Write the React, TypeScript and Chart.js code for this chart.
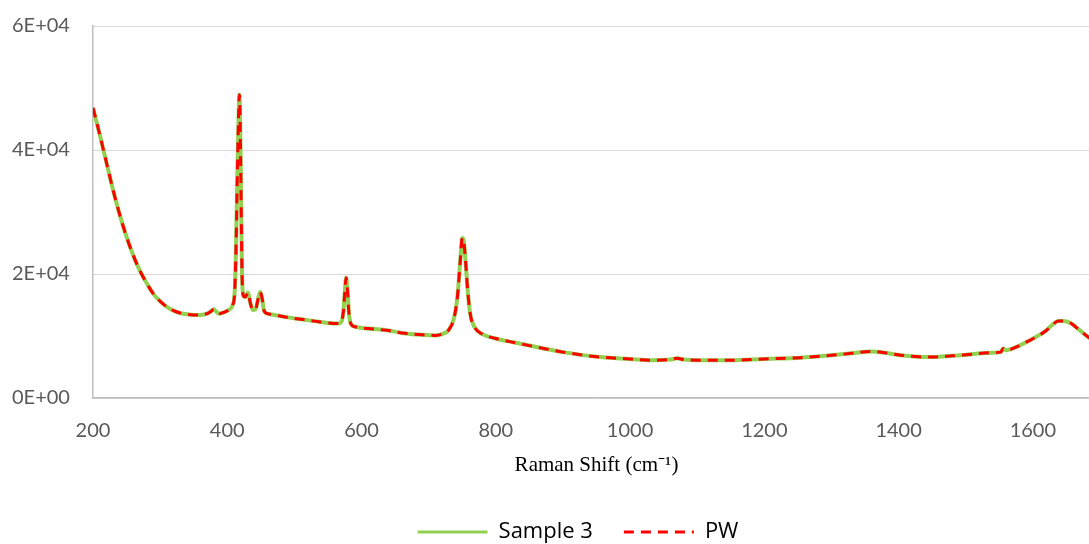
import { useEffect, useRef } from "react";
import { Chart, registerables } from "chart.js";

Chart.register(...registerables);

// Raman shift (cm-1) sample positions
const ramanShift = [
  200, 210, 220, 230, 240, 250, 260, 270, 280, 290, 300, 310, 320, 330, 340, 350, 360, 370, 375, 380,
  384, 388, 395, 402, 408, 411, 413, 415, 417, 418, 419, 420, 421, 422, 424, 427, 431, 434, 438, 442,
  446, 449, 452, 455, 460, 470, 490, 510, 530, 550, 565, 570, 573, 575, 577, 579, 581, 584, 590, 610,
  640, 660, 690, 710, 720, 730, 738, 743, 747, 750, 752, 755, 758, 762, 768, 780, 800, 830, 866, 900,
  955, 1000, 1030, 1060, 1070, 1080, 1100, 1150, 1200, 1254, 1300, 1330, 1358, 1380, 1403, 1447, 1492, 1537, 1552, 1556,
  1560, 1575, 1590, 1604, 1619, 1630, 1638, 1645, 1656, 1670, 1684, 1700,
];

const sample3Values = [
  46800, 42500, 38000, 33500, 29500, 26000, 23000, 20500, 18500, 16800, 15600, 14700, 14100, 13700, 13500, 13400, 13400, 13600, 13900, 14300,
  13900, 13600, 13800, 14200, 15000, 17000, 24000, 36000, 46000, 48900, 46000, 38000, 28000, 20000, 16500, 16300, 17000, 15500, 14200, 14300,
  16000, 17100, 16000, 14000, 13600, 13400, 13000, 12700, 12400, 12100, 12000, 12300, 14000, 17000, 19400, 17500, 14000, 12000, 11500, 11200,
  10900, 10500, 10200, 10100, 10300, 11000, 13000, 16500, 22000, 25800, 25500, 22000, 17500, 13500, 11500, 10300, 9600, 8900, 8100, 7400,
  6600, 6300, 6100, 6200, 6400, 6200, 6100, 6100, 6300, 6500, 6900, 7200, 7500, 7300, 6900, 6600, 6900, 7300, 7400, 8000,
  7700, 8200, 9000, 9800, 10800, 11900, 12400, 12400, 12100, 10900, 9700, 8600,
];

const pwValues = [
  46800, 42500, 38000, 33500, 29500, 26000, 23000, 20500, 18500, 16800, 15600, 14700, 14100, 13700, 13500, 13400, 13400, 13600, 13900, 14300,
  13900, 13600, 13800, 14200, 15000, 17000, 24000, 36000, 46000, 48900, 46000, 38000, 28000, 20000, 16500, 16300, 17000, 15500, 14200, 14300,
  16000, 17100, 16000, 14000, 13600, 13400, 13000, 12700, 12400, 12100, 12000, 12300, 14000, 17000, 19400, 17500, 14000, 12000, 11500, 11200,
  10900, 10500, 10200, 10100, 10300, 11000, 13000, 16500, 22000, 25800, 25500, 22000, 17500, 13500, 11500, 10300, 9600, 8900, 8100, 7400,
  6600, 6300, 6100, 6200, 6400, 6200, 6100, 6100, 6300, 6500, 6900, 7200, 7500, 7300, 6900, 6600, 6900, 7300, 7400, 8000,
  7700, 8200, 9000, 9800, 10800, 11900, 12400, 12400, 12100, 10900, 9700, 8600,
];

const seriesNames = ["Sample 3", "PW"];
const xTickValues = [200, 400, 600, 800, 1000, 1200, 1400, 1600];
const yTickValues = [0, 20000, 40000, 60000];
const xAxisTitle = "Raman Shift (cm\u207B\u00B9)";

function excelSci(v: number): string {
  if (v === 0) return "0E+00";
  const e = Math.floor(Math.log10(Math.abs(v)));
  const m = Math.round(v / Math.pow(10, e));
  return `${m}E${e >= 0 ? "+" : "-"}${String(Math.abs(e)).padStart(2, "0")}`;
}

const tickFont = { family: "Lato", size: 20 };

export default function App() {
  const canvasRef = useRef<HTMLCanvasElement | null>(null);

  useEffect(() => {
    const canvas = canvasRef.current;
    if (!canvas) return;
    const chart = new Chart(canvas, {
      type: "line",
      data: {
        datasets: [
          {
            label: seriesNames[0],
            data: ramanShift.map((x, i) => ({ x, y: sample3Values[i] })),
            borderColor: "#92D050",
            backgroundColor: "#92D050",
            borderWidth: 4,
            pointRadius: 0,
            cubicInterpolationMode: "monotone",
            order: 1,
          },
          {
            label: seriesNames[1],
            data: ramanShift.map((x, i) => ({ x, y: pwValues[i] })),
            borderColor: "#FF0000",
            backgroundColor: "#FF0000",
            borderWidth: 3,
            borderDash: [10, 7],
            pointRadius: 0,
            cubicInterpolationMode: "monotone",
            order: 0,
          },
        ],
      },
      options: {
        responsive: false,
        animation: false,
        devicePixelRatio: 1,
        layout: { padding: { top: 26, left: 56, right: 0, bottom: 0 } },
        plugins: {
          legend: {
            position: "bottom",
            align: "center",
            labels: {
              usePointStyle: true,
              pointStyle: "line",
              pointStyleWidth: 70,
              font: { family: "Open Sans", size: 22 },
              color: "#000000",
              padding: 31,
              sort: (a: any, b: any) => a.datasetIndex - b.datasetIndex,
              generateLabels: (c: any) => {
                const items = Chart.defaults.plugins.legend.labels.generateLabels(c);
                return items.map((item: any) => {
                  const ds: any = c.data.datasets[item.datasetIndex];
                  return {
                    ...item,
                    lineDash: ds.borderDash || [],
                    lineWidth: 3,
                    strokeStyle: ds.borderColor,
                    fillStyle: ds.borderColor,
                  };
                });
              },
            },
          },
          tooltip: { enabled: false },
        },
        scales: {
          x: {
            type: "linear",
            min: 200,
            max: 1700,
            afterBuildTicks: (s: any) => {
              s.ticks = xTickValues.map((value) => ({ value }));
            },
            afterFit: (s: any) => {
              s.height = 92;
            },
            grid: { display: false, drawTicks: false },
            border: { display: true, color: "#bfbfbf", width: 1.5 },
            ticks: {
              padding: 21,
              font: tickFont,
              color: "#595959",
              maxRotation: 0,
              autoSkip: false,
              callback: (v: any) => String(v),
            },
            title: {
              display: true,
              text: xAxisTitle,
              font: { family: "Liberation Serif", size: 21 },
              color: "#000000",
              padding: { top: 0, bottom: 12 },
            },
          },
          y: {
            min: 0,
            max: 60000,
            afterBuildTicks: (s: any) => {
              s.ticks = yTickValues.map((value) => ({ value }));
            },
            afterFit: (s: any) => {
              s.width = 37;
            },
            grid: { color: "#d9d9d9", lineWidth: 1, drawTicks: false },
            border: { display: true, color: "#bfbfbf", width: 1.5 },
            ticks: {
              mirror: true,
              crossAlign: "near",
              padding: -81,
              font: tickFont,
              color: "#595959",
              callback: (v: any) => excelSci(Number(v)),
            },
          },
        },
      },
    });
    return () => chart.destroy();
  }, []);

  return (
    <div
      style={{
        position: "fixed",
        left: 0,
        top: 0,
        width: 1089,
        height: 544,
        overflow: "hidden",
        background: "#ffffff",
      }}
    >
      <canvas ref={canvasRef} width={1100} height={553} style={{ display: "block" }} />
    </div>
  );
}
